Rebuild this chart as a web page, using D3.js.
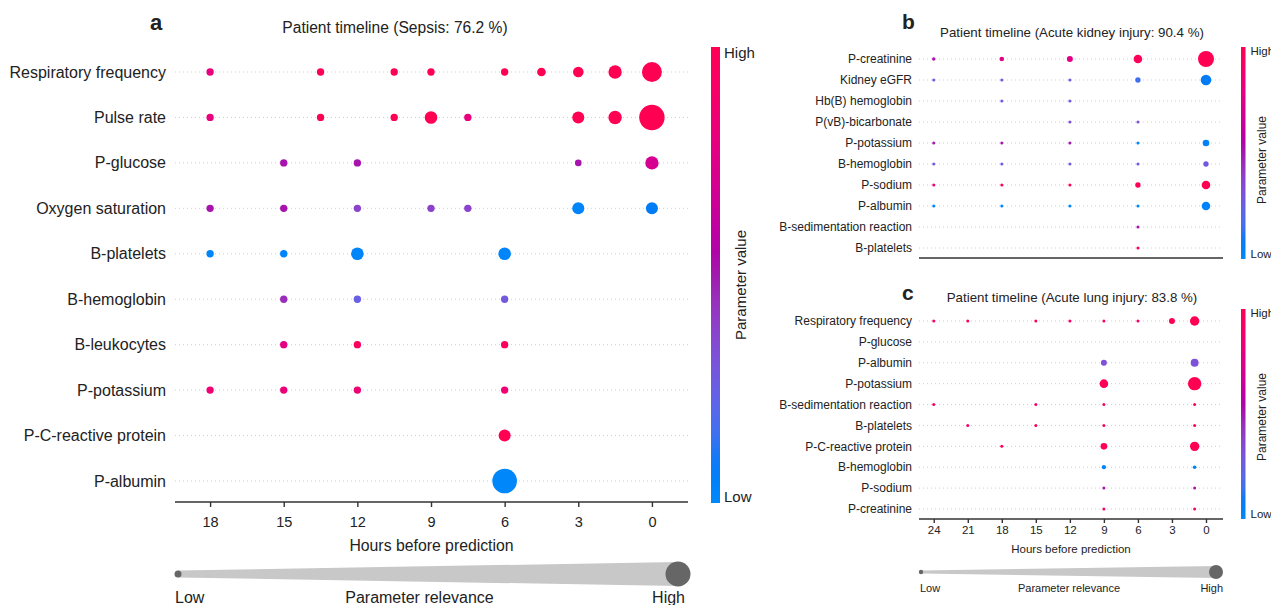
<!DOCTYPE html>
<html lang="en">
<head>
<meta charset="UTF-8">
<title>Patient timelines</title>
<script src="https://d3js.org/d3.v7.min.js"></script>
<style>
  html, body { margin: 0; background: white; }
  body { width: 1271px; height: 605px; overflow: hidden; font-family: "Liberation Sans", Arial, Helvetica, sans-serif; color: #222; }
  svg text { fill: #222; }
</style>
</head>
<body>
<svg id="chart" width="1271" height="605"></svg>
<script>
// ---- data ----
// each point: [row index, hours before prediction, parameter value (0 low .. 1 high), relevance (0 .. 1)]
const sepsisRows = ["Respiratory frequency", "Pulse rate", "P-glucose", "Oxygen saturation", "B-platelets",
  "B-hemoglobin", "B-leukocytes", "P-potassium", "P-C-reactive protein", "P-albumin"];
const sepsisTicks = [18, 15, 12, 9, 6, 3, 0];
const sepsisPoints = [
  [0, 18, 0.8, 0.04], [0, 13.5, 1, 0.04], [0, 10.5, 1, 0.04], [0, 9, 1, 0.04], [0, 6, 1, 0.04],
  [0, 4.5, 1, 0.11], [0, 3, 1, 0.21], [0, 1.5, 1, 0.36], [0, 0, 1, 0.71],
  [1, 18, 0.8, 0.04], [1, 13.5, 1, 0.04], [1, 10.5, 1, 0.04], [1, 9, 1, 0.32], [1, 7.5, 0.8, 0.04],
  [1, 3, 1, 0.29], [1, 1.5, 1, 0.36], [1, 0, 1, 1],
  [2, 15, 0.52, 0.04], [2, 12, 0.52, 0.04], [2, 3, 0.52, 0], [2, 0, 0.7, 0.36],
  [3, 18, 0.52, 0.04], [3, 15, 0.52, 0.04], [3, 12, 0.38, 0.04], [3, 9, 0.38, 0.04], [3, 7.5, 0.38, 0.04],
  [3, 3, 0.03, 0.29], [3, 0, 0.08, 0.29],
  [4, 18, 0.02, 0.04], [4, 15, 0.02, 0.04], [4, 12, 0.02, 0.32], [4, 6, 0.02, 0.32],
  [5, 15, 0.45, 0.04], [5, 12, 0.25, 0.04], [5, 6, 0.28, 0.04],
  [6, 15, 0.78, 0.04], [6, 12, 0.95, 0.04], [6, 6, 0.95, 0.04],
  [7, 18, 0.85, 0.04], [7, 15, 0.82, 0.04], [7, 12, 0.85, 0.04], [7, 6, 0.85, 0.04],
  [8, 6, 1, 0.29],
  [9, 6, 0, 0.96]
];

const kidneyRows = ["P-creatinine", "Kidney eGFR", "Hb(B) hemoglobin", "P(vB)-bicarbonate", "P-potassium",
  "B-hemoglobin", "P-sodium", "P-albumin", "B-sedimentation reaction", "B-platelets"];
const kidneyPoints = [
  [0, 24, 0.52, 0.03], [0, 18, 0.78, 0.12], [0, 12, 0.76, 0.23], [0, 6, 0.97, 0.43], [0, 0, 1, 1],
  [1, 24, 0.28, 0], [1, 18, 0.28, 0], [1, 12, 0.28, 0], [1, 6, 0.15, 0.18], [1, 0, 0.08, 0.58],
  [2, 18, 0.28, 0], [2, 12, 0.28, 0],
  [3, 12, 0.32, 0], [3, 6, 0.32, 0],
  [4, 24, 0.5, 0], [4, 18, 0.5, 0], [4, 12, 0.5, 0], [4, 6, 0.02, 0], [4, 0, 0.04, 0.28],
  [5, 24, 0.28, 0], [5, 18, 0.28, 0], [5, 12, 0.28, 0], [5, 6, 0.28, 0], [5, 0, 0.28, 0.18],
  [6, 24, 0.85, 0], [6, 18, 0.95, 0], [6, 12, 0.95, 0], [6, 6, 1, 0.18], [6, 0, 1, 0.43],
  [7, 24, 0.02, 0], [7, 18, 0.02, 0], [7, 12, 0.02, 0], [7, 6, 0.02, 0], [7, 0, 0.04, 0.43],
  [8, 6, 0.52, 0],
  [9, 6, 0.9, 0]
];

const lungRows = ["Respiratory frequency", "P-glucose", "P-albumin", "P-potassium", "B-sedimentation reaction",
  "B-platelets", "P-C-reactive protein", "B-hemoglobin", "P-sodium", "P-creatinine"];
const lungTicks = [24, 21, 18, 15, 12, 9, 6, 3, 0];
const lungPoints = [
  [0, 24, 0.9, 0], [0, 21, 0.95, 0], [0, 15, 0.95, 0], [0, 12, 0.92, 0], [0, 9, 0.92, 0], [0, 6, 0.92, 0],
  [0, 3, 1, 0.23], [0, 1, 1, 0.49],
  [2, 9, 0.32, 0.23], [2, 1, 0.32, 0.38],
  [3, 9, 1, 0.43], [3, 1, 1, 0.8],
  [4, 24, 0.88, 0], [4, 15, 0.92, 0], [4, 9, 0.95, 0], [4, 1, 0.95, 0],
  [5, 21, 0.92, 0], [5, 15, 0.95, 0], [5, 9, 0.95, 0], [5, 1, 0.95, 0],
  [6, 18, 0.95, 0], [6, 9, 1, 0.28], [6, 1, 1, 0.49],
  [7, 9, 0.03, 0.1], [7, 1, 0.03, 0.05],
  [8, 9, 0.52, 0], [8, 1, 0.52, 0],
  [9, 9, 0.92, 0], [9, 1, 0.92, 0]
];

// red-blue map walked through LCh (blue -> dark purple -> red)
function valueColor(t) {
  const h = 266.9 + t * (380.3 - 266.9);
  const c = 70 + 20 * t;
  const l = t < 0.5 ? 54 - 28 * t : 40 + 28 * (t - 0.5);
  return d3.hcl(h % 360, c, l).formatHex();
}

const svg = d3.select("#chart");
const defs = svg.append("defs");
const grad = defs.append("linearGradient")
  .attr("id", "valgrad")
  .attr("x1", 0).attr("y1", 1).attr("x2", 0).attr("y2", 0);
d3.range(0, 1.0001, 0.05).forEach(t => {
  grad.append("stop").attr("offset", t).attr("stop-color", valueColor(t));
});

function drawPanel(cfg) {
  const g = svg.append("g");
  const x = d3.scaleLinear().domain(cfg.xDomain).range([cfg.left, cfg.right]);
  const y = d3.scalePoint().domain(d3.range(cfg.rows.length)).range([cfg.top, cfg.bottom]);
  const r = d3.scaleLinear().domain([0, 1]).range(cfg.rRange);

  // dotted guide lines
  g.selectAll(".guide")
    .data(cfg.rows)
    .enter().append("line")
    .attr("x1", cfg.left).attr("x2", cfg.right)
    .attr("y1", (d, i) => y(i)).attr("y2", (d, i) => y(i))
    .attr("stroke", "#cfcfcf")
    .attr("stroke-width", 1)
    .attr("stroke-dasharray", "1,3");

  g.selectAll(".row-label")
    .data(cfg.rows)
    .enter().append("text")
    .attr("x", cfg.left - cfg.labelGap)
    .attr("y", (d, i) => y(i))
    .attr("dy", "0.35em")
    .attr("text-anchor", "end")
    .style("font-size", cfg.labelSize + "px")
    .text(d => d);

  g.selectAll(".pt")
    .data(cfg.points)
    .enter().append("circle")
    .attr("cx", d => x(d[1]))
    .attr("cy", d => y(d[0]))
    .attr("r", d => r(d[3]))
    .attr("fill", d => valueColor(d[2]));

  const axis = d3.axisBottom(x)
    .tickValues(cfg.ticks)
    .tickSize(cfg.ticks.length ? cfg.tickSize : 0)
    .tickSizeOuter(0)
    .tickPadding(cfg.tickPadding)
    .tickFormat(d3.format("d"));
  const ax = g.append("g")
    .attr("transform", `translate(0,${cfg.axisY})`)
    .call(axis);
  ax.select(".domain").attr("stroke", "#333").attr("stroke-width", 1.6)
    .attr("d", `M${cfg.left},0H${cfg.right}`);
  ax.selectAll(".tick line").attr("stroke", "#333").attr("stroke-width", 1.4);
  ax.selectAll(".tick text")
    .style("font-size", cfg.tickSize2 + "px")
    .style("font-family", "'Liberation Sans', Arial, sans-serif")
    .attr("fill", "#222");

  if (cfg.xLabel) {
    g.append("text")
      .attr("x", (cfg.left + cfg.right) / 2)
      .attr("y", cfg.xLabelY)
      .attr("text-anchor", "middle")
      .style("font-size", cfg.xLabelSize + "px")
      .text("Hours before prediction");
  }

  // title and panel letter
  g.append("text")
    .attr("x", cfg.titleX).attr("y", cfg.titleY)
    .attr("text-anchor", "middle")
    .style("font-size", cfg.titleSize + "px")
    .text(cfg.title);
  g.append("text")
    .attr("x", cfg.letterX).attr("y", cfg.letterY)
    .style("font-size", cfg.letterSize + "px")
    .style("font-weight", "bold")
    .text(cfg.letter);

  // colour bar
  const cb = cfg.cbar;
  g.append("rect")
    .attr("x", cb.x).attr("y", cb.top)
    .attr("width", cb.w).attr("height", cb.bottom - cb.top)
    .attr("fill", "url(#valgrad)");
  g.append("text").attr("x", cb.x + cb.w + cb.gap).attr("y", cb.top + cb.fs * 0.72)
    .style("font-size", cb.fs + "px").text("High");
  g.append("text").attr("x", cb.x + cb.w + cb.gap).attr("y", cb.bottom - 1)
    .style("font-size", cb.fs + "px").text("Low");
  g.append("text")
    .attr("transform", `translate(${cb.titleX},${(cb.top + cb.bottom) / 2 + cb.titleShift}) rotate(-90)`)
    .attr("text-anchor", "middle")
    .style("font-size", cb.titleFs + "px")
    .text("Parameter value");

  // relevance legend
  const rl = cfg.relevance;
  if (rl) {
    g.append("path")
      .attr("d", `M${rl.x0},${rl.y - rl.h0}L${rl.x1},${rl.y - rl.h1}L${rl.x1},${rl.y + rl.h1}L${rl.x0},${rl.y + rl.h0}Z`)
      .attr("fill", "#c8c8c8");
    g.append("circle").attr("cx", rl.x0).attr("cy", rl.y).attr("r", rl.r0).attr("fill", "#666");
    g.append("circle").attr("cx", rl.x1).attr("cy", rl.y).attr("r", rl.r1).attr("fill", "#666");
    g.append("text").attr("x", rl.lowX).attr("y", rl.textY)
      .style("font-size", rl.fs + "px").text("Low");
    g.append("text").attr("x", (cfg.left + cfg.right) / 2 - rl.midShift).attr("y", rl.textY)
      .attr("text-anchor", "middle").style("font-size", rl.fs + "px").text("Parameter relevance");
    g.append("text").attr("x", rl.highX).attr("y", rl.textY)
      .attr("text-anchor", "end").style("font-size", rl.fs + "px").text("High");
  }
}

drawPanel({
  rows: sepsisRows, points: sepsisPoints, ticks: sepsisTicks,
  xDomain: [19.43, -1.47], left: 175, right: 688, top: 72, bottom: 481,
  rRange: [3.3, 12.7], labelGap: 9, labelSize: 16,
  axisY: 502, tickSize: 5, tickPadding: 10, tickSize2: 14.5,
  xLabel: true, xLabelY: 551, xLabelSize: 15.8,
  title: "Patient timeline (Sepsis: 76.2 %)", titleX: 395, titleY: 33, titleSize: 15.6,
  letter: "a", letterX: 150, letterY: 30, letterSize: 22,
  cbar: { x: 711, w: 9, top: 47, bottom: 503, gap: 4, fs: 15, titleX: 746, titleShift: 10, titleFs: 15 },
  relevance: { x0: 178, x1: 678, y: 574, h0: 3.5, h1: 12, r0: 3.5, r1: 12.5, textY: 603, fs: 16,
    lowX: 175, highX: 685, midShift: 12 }
});

drawPanel({
  rows: kidneyRows, points: kidneyPoints, ticks: [],
  xDomain: [25.3, -1.5], left: 919, right: 1223, top: 59, bottom: 248,
  rRange: [1.5, 8], labelGap: 7, labelSize: 12,
  axisY: 258, tickSize: 4, tickPadding: 3, tickSize2: 11,
  xLabel: false,
  title: "Patient timeline (Acute kidney injury: 90.4 %)", titleX: 1072, titleY: 37, titleSize: 13.3,
  letter: "b", letterX: 902, letterY: 29, letterSize: 21,
  cbar: { x: 1241, w: 4.5, top: 47, bottom: 259, gap: 5, fs: 11.5, titleX: 1266, titleShift: 7, titleFs: 12 }
});

drawPanel({
  rows: lungRows, points: lungPoints, ticks: lungTicks,
  xDomain: [25.3, -1.5], left: 919, right: 1223, top: 321, bottom: 509,
  rRange: [1.5, 8], labelGap: 7, labelSize: 12,
  axisY: 519, tickSize: 4, tickPadding: 3, tickSize2: 11.5,
  xLabel: true, xLabelY: 553, xLabelSize: 11.5,
  title: "Patient timeline (Acute lung injury: 83.8 %)", titleX: 1072, titleY: 302, titleSize: 13.3,
  letter: "c", letterX: 902, letterY: 300, letterSize: 21,
  cbar: { x: 1241, w: 4.5, top: 309, bottom: 519, gap: 5, fs: 11.5, titleX: 1266, titleShift: 3, titleFs: 12 },
  relevance: { x0: 921, x1: 1216, y: 572, h0: 1.5, h1: 6, r0: 2.2, r1: 7, textY: 592, fs: 11,
    lowX: 920, highX: 1223, midShift: 2 }
});
</script>
</body>
</html>
